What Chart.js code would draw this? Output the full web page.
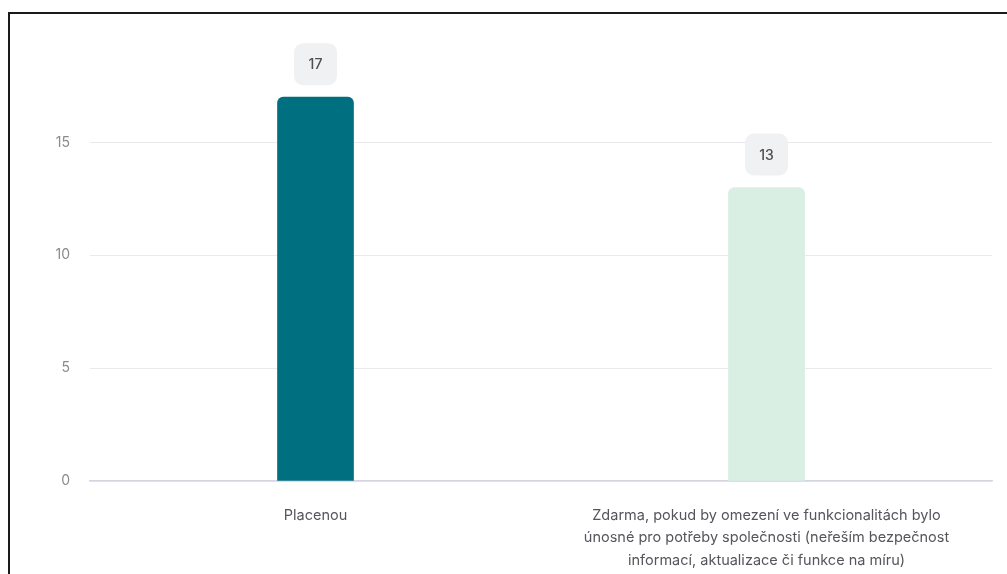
<!DOCTYPE html>
<html>
<head>
<meta charset="utf-8">
<script src="https://cdn.jsdelivr.net/npm/chart.js@4.4.0/dist/chart.umd.min.js"></script>
<style>
    html, body { margin: 0; padding: 0; background: #fff; overflow: hidden; }
    #frame {
        position: absolute; left: 8px; top: 12px;
        width: 1100px; height: 700px;
        border: 2px solid #1a1a1a;
    }
    #wrap { position: absolute; left: 0; top: 0; width: 1007px; height: 574px; }
</style>
</head>
<body>
<div id="frame"></div>
<div id="wrap"><canvas id="answersChart"></canvas></div>
<script>
const categories = [
    ['Placenou'],
    ['Zdarma, pokud by omezení ve funkcionalitách bylo',
     'únosné pro potřeby společnosti (neřeším bezpečnost',
     'informací, aktualizace či funkce na míru)']
];
const counts = [17, 13];
const barColors = ['#006f80', '#d9efe3'];
const yTicks = [0, 5, 10, 15];

// value boxes above each bar
const valueBoxes = {
    id: 'valueBoxes',
    afterDatasetsDraw(chart) {
        const ctx = chart.ctx;
        const meta = chart.getDatasetMeta(0);
        ctx.save();
        meta.data.forEach((bar, i) => {
            const w = 43, h = 42;
            const x = bar.x - w / 2;
            const y = bar.y - 12 - h;
            ctx.fillStyle = '#f0f1f2';
            ctx.beginPath();
            ctx.roundRect(x, y, w, h, 9);
            ctx.fill();
            ctx.fillStyle = '#4d4f57';
            ctx.font = '500 14px Inter';
            ctx.textAlign = 'center';
            ctx.textBaseline = 'middle';
            ctx.fillText(String(counts[i]), bar.x, y + h / 2 + 1);
        });
        ctx.restore();
    }
};

function initChart() {
    const ctx = document.getElementById('answersChart').getContext('2d');

    new Chart(ctx, {
        type: 'bar',
        data: {
            labels: categories,
            datasets: [{
                data: counts,
                backgroundColor: barColors,
                borderWidth: 0,
                borderRadius: 6,
                borderSkipped: 'start',
                barThickness: 76
            }]
        },
        options: {
            responsive: true,
            maintainAspectRatio: false,
            animation: false,
            layout: { padding: { top: 52, right: 15, bottom: 0, left: 0 } },
            plugins: {
                legend: { display: false },
                tooltip: { enabled: false }
            },
            scales: {
                y: {
                    min: 0,
                    max: 19,
                    afterFit: scale => { scale.width = 90; },
                    afterBuildTicks: scale => {
                        scale.ticks = yTicks.map(v => ({ value: v }));
                    },
                    border: { display: false },
                    grid: { color: '#e9e9ee', drawTicks: false },
                    ticks: {
                        padding: 20,
                        color: '#8a8a8f',
                        font: { family: 'Inter', size: 14 }
                    }
                },
                x: {
                    afterFit: scale => { scale.height = 93; },
                    border: { color: '#d6d6e2', width: 1.5 },
                    grid: { display: false },
                    ticks: {
                        padding: 15,
                        maxRotation: 0,
                        autoSkip: false,
                        color: '#55565c',
                        font: { family: 'Inter', size: 14.5, lineHeight: 1.55 }
                    }
                }
            }
        },
        plugins: [valueBoxes]
    });
}

document.addEventListener('DOMContentLoaded', initChart);
</script>
</body>
</html>
